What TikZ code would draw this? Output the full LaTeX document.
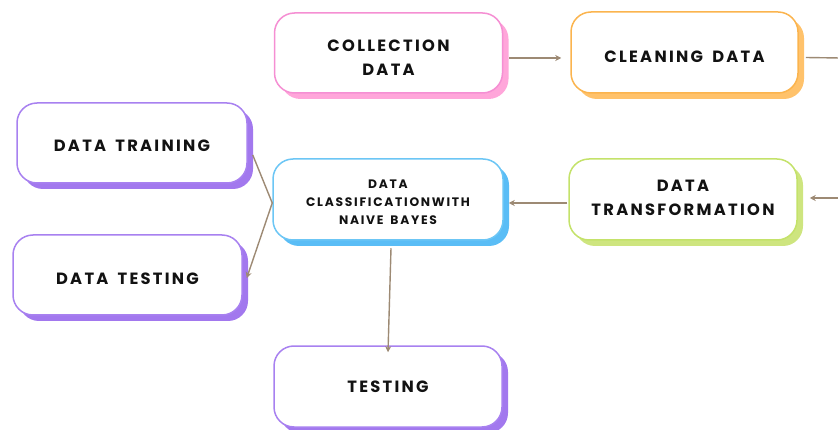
\documentclass[tikz,border=0pt]{standalone}
\usepackage{fontspec}
\setmainfont{Poppins}[LetterSpace=14,WordSpace=1.6]
\usetikzlibrary{shadows,arrows.meta,calc}
\definecolor{pinkB}{HTML}{F58FD3}
\definecolor{pinkS}{HTML}{FFA6DA}
\definecolor{orangeB}{HTML}{FBB44E}
\definecolor{orangeS}{HTML}{FFC26B}
\definecolor{greenB}{HTML}{C4E26A}
\definecolor{greenS}{HTML}{CEE57F}
\definecolor{blueB}{HTML}{6CC6F5}
\definecolor{blueS}{HTML}{5ABDF6}
\definecolor{purpleB}{HTML}{A881F0}
\definecolor{purpleS}{HTML}{A278EE}
\definecolor{lineC}{HTML}{9D8A74}
\definecolor{txtC}{HTML}{121212}
\begin{document}
\begin{tikzpicture}[x=1pt,y=-1pt,
  box/.style n args={3}{draw=#1B, fill=white, line width=1.5pt, rounded corners=20pt,
    minimum width=#2, minimum height=#3, inner sep=0pt,
    drop shadow={shadow xshift=6pt, shadow yshift=-6pt, fill=#1S, draw=none, opacity=1}},
  lbl/.style={font=\bfseries\fontsize{16.3}{24.5}\selectfont, text=txtC, align=center},
  lblsmall/.style={font=\bfseries\fontsize{12.3}{18}\selectfont, text=txtC, align=center},
  conn/.style={draw=lineC, line width=1.4pt},
  arr/.style={conn, -{Stealth[length=6pt,width=6pt]}}]
\useasboundingbox (0,0) rectangle (838,430);
% boxes
\node[box={pink}{228pt}{80pt}] (collect) at (388.5,53) {};
\node[box={orange}{227pt}{81pt}] (clean) at (684.5,52.5) {};
\node[box={green}{228pt}{81pt}] (transf) at (683,199.5) {};
\node[box={blue}{230pt}{81pt}] (classif) at (388,199.5) {};
\node[box={purple}{230pt}{80pt}] (train) at (132,143) {};
\node[box={purple}{229pt}{80pt}] (dtest) at (127.5,275) {};
\node[box={purple}{228pt}{81pt}] (test) at (388,386.5) {};
% texts
\node[lbl] (tcollect) at ($(collect)+(0,4.5)$) {COLLECTION\\DATA};
\node[lbl] (tclean) at ($(clean)+(0,4.5)$) {CLEANING DATA};
\node[lbl] (ttransf) at ($(transf)+(0,-1.5)$) {DATA\\TRANSFORMATION};
\node[lblsmall] (tclassif) at ($(classif)+(0,2.5)$) {DATA\\CLASSIFICATIONWITH\\NAIVE BAYES};
\node[lbl] (ttrain) at ($(train)+(0,3)$) {DATA TRAINING};
\node[lbl] (tdtest) at ($(dtest)+(0,4)$) {DATA TESTING};
\node[lbl] (ttest) at ($(test)+(0,0.5)$) {TESTING};
% free ends
\coordinate (outA) at (840,58);
\coordinate (inB) at (840,198);
\coordinate (junc) at ($(classif.west)+(0,3.5)$);
% connectors
\draw[arr] ($(collect.east)+(6,5)$) -- ($(clean.west)+(-9,5.5)$);
\draw[conn] ($(clean.east)+(7,5)$) -- (outA);
\draw[arr] (inB) -- ($(transf.east)+(12,-1.5)$);
\draw[arr] ($(transf.west)+(-1,3.5)$) -- ($(classif.east)+(5,3.5)$);
\draw[conn] (junc) -- ($(train.east)+(5,12)$);
\draw[arr] (junc) -- ($(dtest.east)+(4,3)$);
\draw[arr] ($(classif.south)+(3,7.5)$) -- ($(test.north)+(0,7)$);
\end{tikzpicture}
\end{document}
